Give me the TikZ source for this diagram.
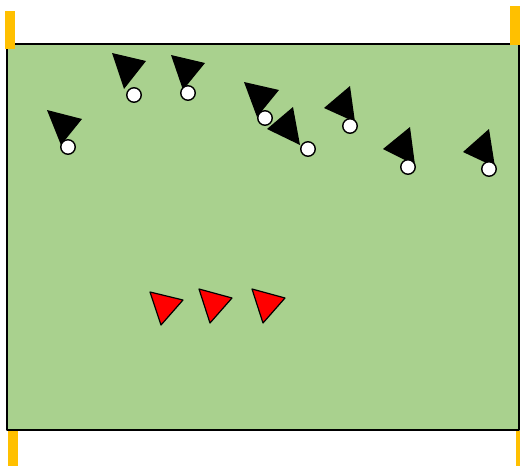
\documentclass[tikz,border=0pt]{standalone}
\usepackage{tikz}
\definecolor{Gfill}{RGB}{169,209,142}
\definecolor{Ofill}{RGB}{255,192,0}
\definecolor{Cfill}{RGB}{255,0,0}

\begin{document}
\begin{tikzpicture}[x=1pt,y=-1pt,line cap=round,line join=round,
  post/.style={fill=Ofill,draw=none},
  body/.style={fill=black,draw=none},
  head/.style={circle,draw,line width=1.4pt,fill=white,minimum size=14.5pt,inner sep=0pt},
  cone/.style={fill=Cfill,draw,line width=1.2pt}]
\path[use as bounding box] (0,0) rectangle (520,466);
% field
\draw[fill=Gfill,line width=1.2pt] (7,44) rectangle (519,430);
% posts
\fill[post] (5,11) rectangle (15,49);
\fill[post] (510,6) rectangle (520,45);
\fill[post] (8,431) rectangle (18,466);
\fill[post] (516,431) rectangle (520,466);
% players
\fill[body] (47,110) -- (82,119) -- (61,145) -- cycle;
\fill[body] (112,53) -- (146,61) -- (124,89) -- cycle;
\fill[body] (171,55) -- (205,63) -- (183,90) -- cycle;
\fill[body] (244,82) -- (279,90) -- (257,117) -- cycle;
\fill[body] (293,107) -- (267,129) -- (300,145) -- cycle;
\fill[body] (350,86) -- (324,108) -- (355,122) -- cycle;
\fill[body] (410,127) -- (383,149) -- (415,165) -- cycle;
\fill[body] (489,129) -- (463,152) -- (495,167) -- cycle;
\node[head] (p1) at (68,147) {};
\node[head] (p2) at (134,95) {};
\node[head] (p3) at (188,93) {};
\node[head] (p4) at (265,118) {};
\node[head] (p5) at (308,149) {};
\node[head] (p6) at (350,126) {};
\node[head] (p7) at (408,167) {};
\node[head] (p8) at (489,169) {};
% cones
\draw[cone] (150,292) -- (183,300) -- (161,325) -- cycle;
\draw[cone] (199,289) -- (232,298) -- (210,323) -- cycle;
\draw[cone] (252,289) -- (285,298) -- (263,323) -- cycle;
\end{tikzpicture}
\end{document}
